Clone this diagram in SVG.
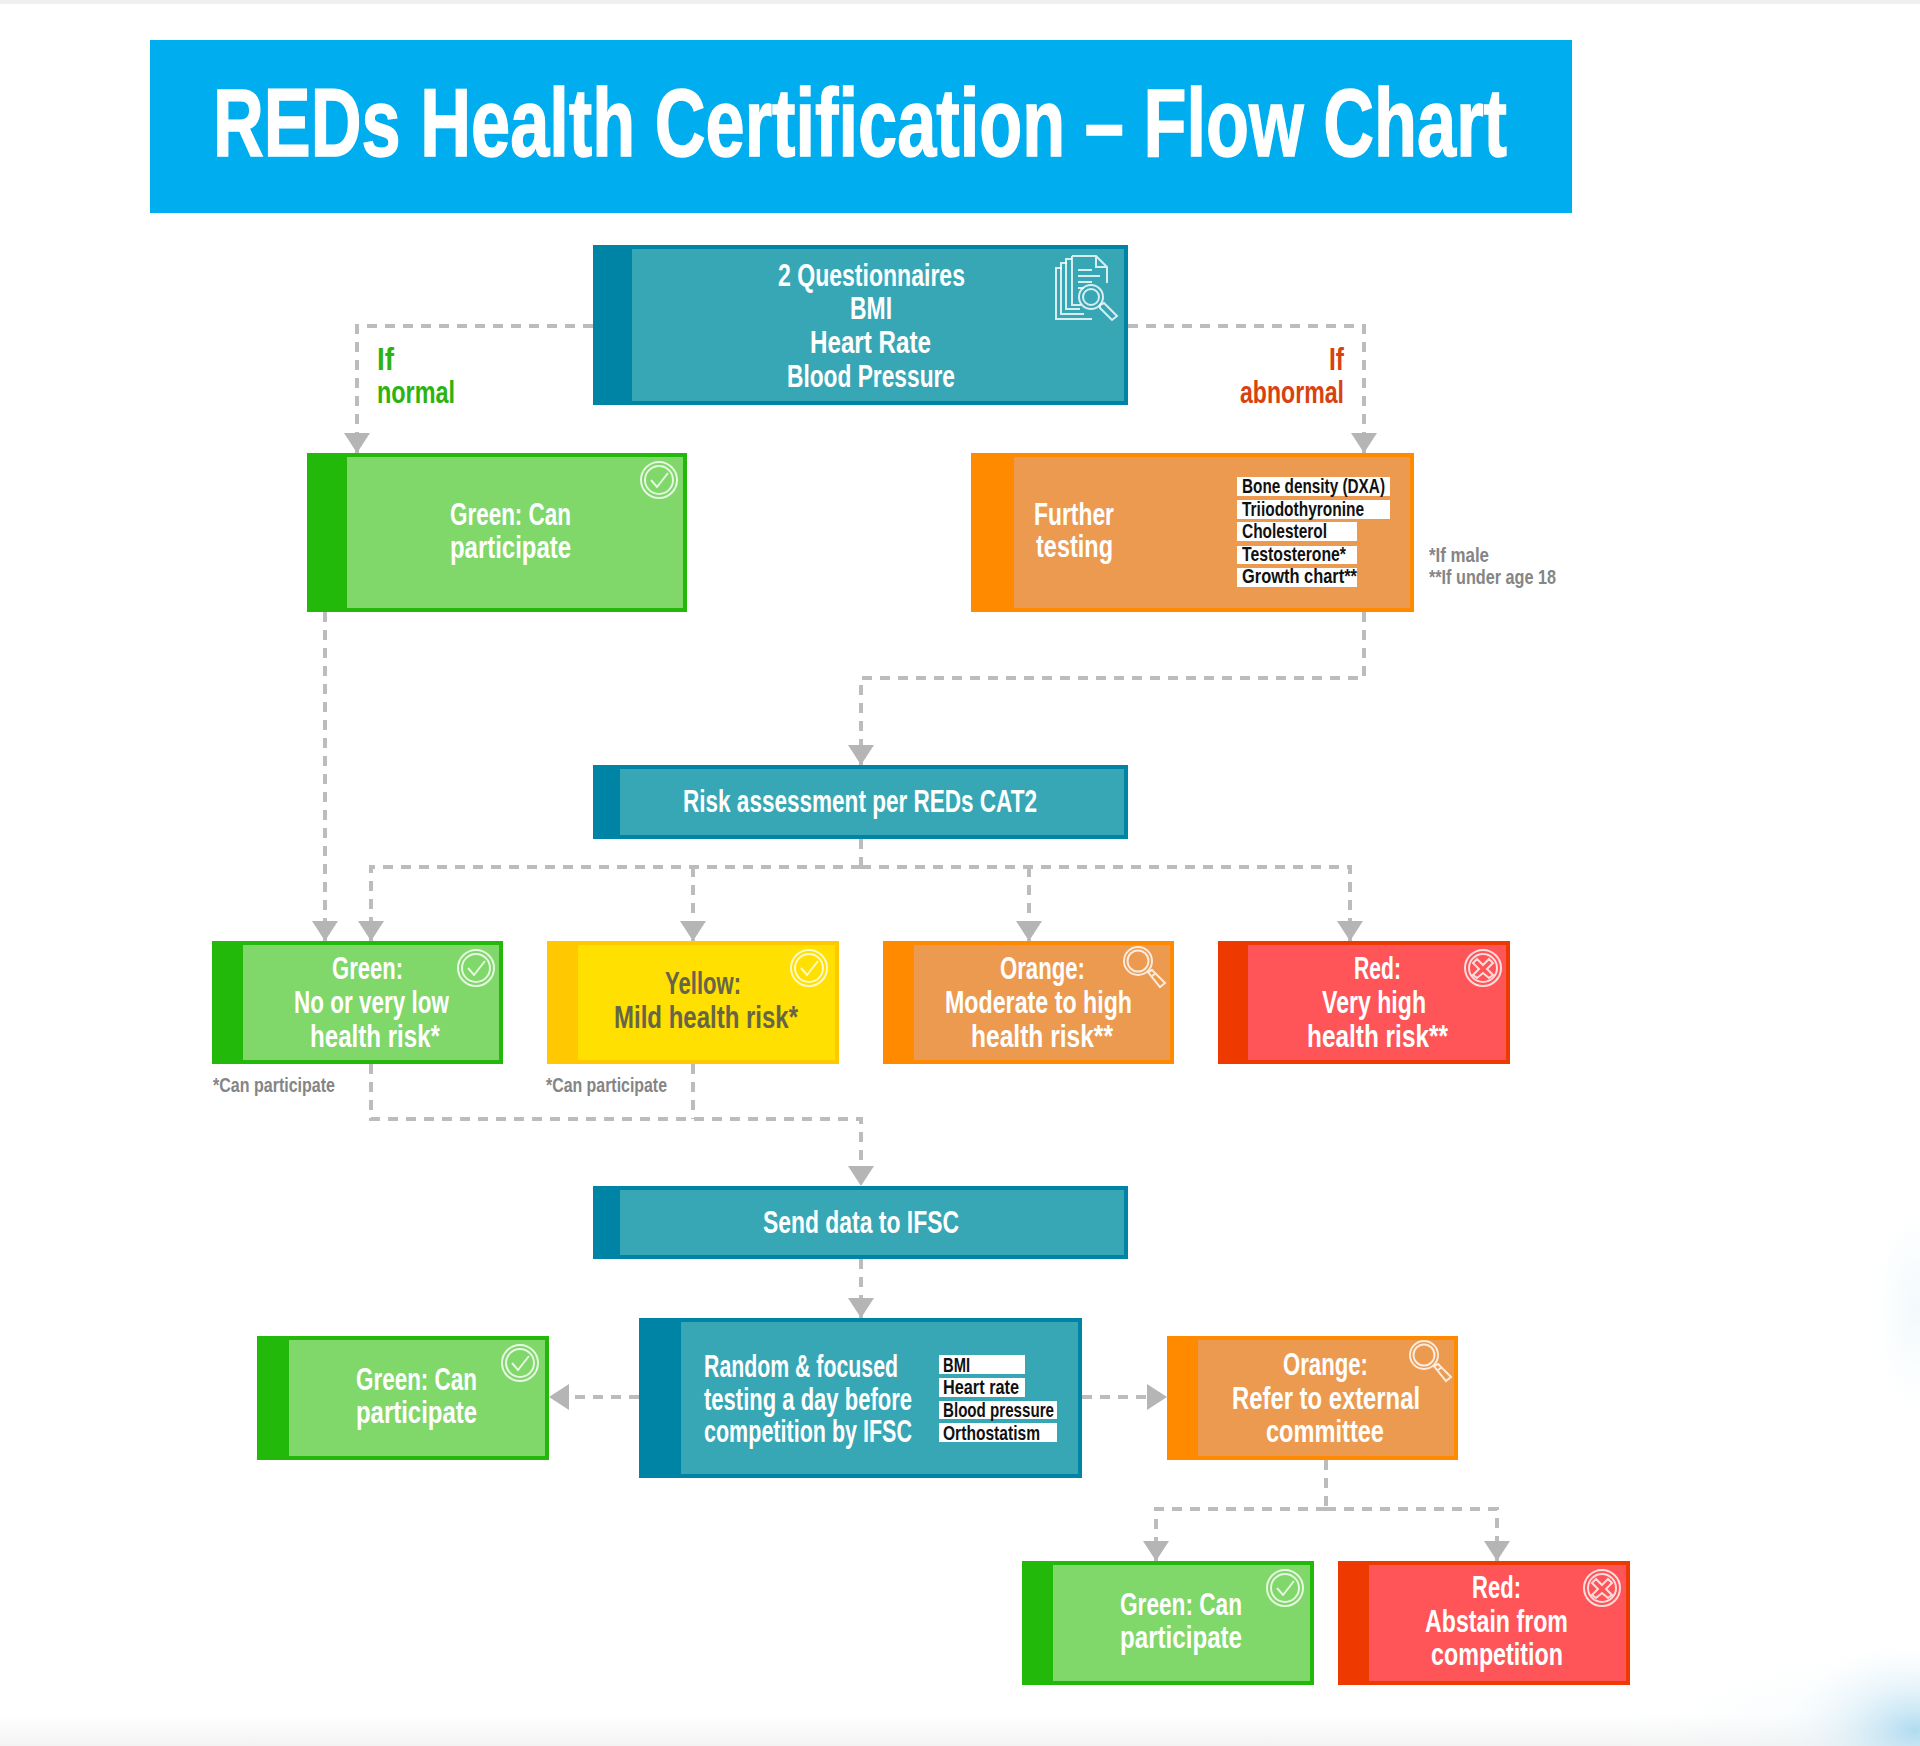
<svg xmlns="http://www.w3.org/2000/svg" width="1920" height="1746" viewBox="0 0 1920 1746">
<style>
text{font-family:"Liberation Sans Narrow","Liberation Sans",Arial,sans-serif;font-weight:700}
.w{font-size:26px;fill:#fff}
.k{font-size:17px;fill:#111}
.n{font-size:17px;fill:#858585}
.y{font-size:26px;fill:#66654a}
.g{font-size:26px;fill:#2cb30f}
.r{font-size:26px;fill:#d8420f}
.c{fill:none;stroke:#bcbcbc;stroke-width:4;stroke-dasharray:10 8}
.ic{fill:none;stroke:#fff;stroke-opacity:.8;stroke-width:2}
.pill{fill:#fff}
.tealo{fill:#0084a5}.teali{fill:#38a7b5}
.greeno{fill:#22b90a}.greeni{fill:#80d76a}
.orano{fill:#ff8a00}.orani{fill:#ec9a50}
.yelo{fill:#ffc800}.yeli{fill:#ffe000}
.redo{fill:#ee3a00}.redi{fill:#ff5558}
</style>
<defs>
<marker id="a" markerUnits="userSpaceOnUse" markerWidth="20" markerHeight="26" refX="20" refY="13" orient="auto"><path d="M0 0L20 13L0 26Z" fill="#b5b5b5"/></marker>
<linearGradient id="bot" x1="0" y1="0" x2="0" y2="1"><stop offset="0" stop-color="#fff"/><stop offset="1" stop-color="#f3f3f3"/></linearGradient>
<radialGradient id="blue"><stop offset="0" stop-color="#a9d8ef" stop-opacity=".9"/><stop offset=".5" stop-color="#cde8f5" stop-opacity=".45"/><stop offset="1" stop-color="#eaf6fb" stop-opacity="0"/></radialGradient>
<radialGradient id="blue2"><stop offset="0" stop-color="#e6f3f9" stop-opacity=".5"/><stop offset="1" stop-color="#f2f9fc" stop-opacity="0"/></radialGradient>
<g id="chk"><circle r="18" class="ic"/><circle r="14" class="ic" stroke-width="1.5"/><path d="M-8 0L-2 7L9 -7" class="ic"/></g>
<g id="xx"><circle r="18" class="ic"/><circle r="14" class="ic" stroke-width="1.5"/><path d="M-6 -9L0 -3L6 -9L10 -5L4 1L10 7L6 10L0 5L-6 10L-10 7L-4 1L-10 -5Z" class="ic"/></g>
<g id="mag"><circle r="14" class="ic"/><circle r="10.5" class="ic" stroke-width="1.5"/><path d="M10 11L14 9L27 22L22 26Z M14 15L18 12" class="ic"/></g>
</defs>
<rect width="1920" height="1746" fill="#fff"/>
<rect width="1920" height="4" fill="#efefef"/>
<rect y="1715" width="1920" height="31" fill="url(#bot)"/>
<ellipse cx="1900" cy="1760" rx="290" ry="120" fill="url(#blue2)"/>
<ellipse cx="1915" cy="1730" rx="130" ry="85" fill="url(#blue)"/>
<ellipse cx="1915" cy="1310" rx="45" ry="110" fill="url(#blue2)"/>

<g id="title">
<rect x="150" y="40" width="1422" height="173" fill="#00adef"/>
<text transform="translate(213 156) scale(1 1.2)" font-size="80" fill="#fff" stroke="#fff" stroke-width="1.2" textLength="1294" lengthAdjust="spacingAndGlyphs">REDs Health Certification – Flow Chart</text>
</g>

<g id="connectors">
<path class="c" d="M593 326H357V453" marker-end="url(#a)"/>
<path class="c" d="M1128 326H1364V453" marker-end="url(#a)"/>
<path class="c" d="M325 612V941" marker-end="url(#a)"/>
<path class="c" d="M1364 612V678H861V765" marker-end="url(#a)"/>
<path class="c" d="M861 839V867"/>
<path class="c" d="M861 867H371V941" marker-end="url(#a)"/>
<path class="c" d="M693 867V941" marker-end="url(#a)"/>
<path class="c" d="M1029 867V941" marker-end="url(#a)"/>
<path class="c" d="M861 867H1350V941" marker-end="url(#a)"/>
<path class="c" d="M371 1064V1119H861V1186" marker-end="url(#a)"/>
<path class="c" d="M693 1064V1119"/>
<path class="c" d="M861 1259V1318" marker-end="url(#a)"/>
<path class="c" d="M639 1397H549" marker-end="url(#a)"/>
<path class="c" d="M1082 1397H1167" marker-end="url(#a)"/>
<path class="c" d="M1326 1460V1509"/>
<path class="c" d="M1326 1509H1156V1561" marker-end="url(#a)"/>
<path class="c" d="M1326 1509H1497V1561" marker-end="url(#a)"/>
</g>

<g id="label-normal">
<text class="g" transform="translate(377 370) scale(1 1.19)" textLength="17" lengthAdjust="spacingAndGlyphs">If</text>
<text class="g" transform="translate(377 403) scale(1 1.19)" textLength="78" lengthAdjust="spacingAndGlyphs">normal</text>
</g>
<g id="label-abnormal">
<text class="r" transform="translate(1329 370) scale(1 1.19)" textLength="15" lengthAdjust="spacingAndGlyphs">If</text>
<text class="r" transform="translate(1240 403) scale(1 1.19)" textLength="104" lengthAdjust="spacingAndGlyphs">abnormal</text>
</g>

<g id="node-screening">
<rect class="tealo" x="593" y="245" width="535" height="160"/><rect class="teali" x="632" y="249" width="492" height="152"/>
<text class="w" transform="translate(778 286) scale(1 1.19)" textLength="187" lengthAdjust="spacingAndGlyphs">2 Questionnaires</text>
<text class="w" transform="translate(850 319) scale(1 1.19)" textLength="42" lengthAdjust="spacingAndGlyphs">BMI</text>
<text class="w" transform="translate(810 353) scale(1 1.19)" textLength="121" lengthAdjust="spacingAndGlyphs">Heart Rate</text>
<text class="w" transform="translate(787 387) scale(1 1.19)" textLength="168" lengthAdjust="spacingAndGlyphs">Blood Pressure</text>
<g class="ic"><path d="M1062 268H1056V319H1092"/><path d="M1067 263H1061V314H1084"/><path d="M1072 259H1066V309H1080"/><path d="M1072 256H1096L1107 267V283M1072 256V305H1081M1096 256V267H1107M1078 270H1092M1078 276H1100M1078 282H1092M1078 288H1084"/><circle cx="1091" cy="297" r="12"/><circle cx="1091" cy="297" r="8"/><path d="M1100 305L1104 303L1117 316L1112 320L1100 308Z"/></g>
</g>

<g id="node-green-1">
<rect class="greeno" x="307" y="453" width="380" height="159"/><rect class="greeni" x="347" y="457" width="336" height="151"/>
<text class="w" transform="translate(450 525) scale(1 1.19)" textLength="121" lengthAdjust="spacingAndGlyphs">Green: Can</text>
<text class="w" transform="translate(450 558) scale(1 1.19)" textLength="121" lengthAdjust="spacingAndGlyphs">participate</text>
<use href="#chk" x="659" y="480"/>
</g>

<g id="node-further">
<rect class="orano" x="971" y="453" width="443" height="159"/><rect class="orani" x="1014" y="457" width="396" height="151"/>
<text class="w" transform="translate(1034 525) scale(1 1.19)" textLength="80" lengthAdjust="spacingAndGlyphs">Further</text>
<text class="w" transform="translate(1036 557) scale(1 1.19)" textLength="77" lengthAdjust="spacingAndGlyphs">testing</text>
<rect class="pill" x="1237" y="477" width="153" height="19"/><rect class="pill" x="1237" y="500" width="153" height="19"/><rect class="pill" x="1237" y="522" width="120" height="19"/><rect class="pill" x="1237" y="546" width="120" height="18"/><rect class="pill" x="1237" y="568" width="120" height="19"/>
<text class="k" transform="translate(1242 493) scale(1 1.18)" textLength="143" lengthAdjust="spacingAndGlyphs">Bone density (DXA)</text>
<text class="k" transform="translate(1242 516) scale(1 1.18)" textLength="122" lengthAdjust="spacingAndGlyphs">Triiodothyronine</text>
<text class="k" transform="translate(1242 538) scale(1 1.18)" textLength="85" lengthAdjust="spacingAndGlyphs">Cholesterol</text>
<text class="k" transform="translate(1242 561) scale(1 1.18)" textLength="104" lengthAdjust="spacingAndGlyphs">Testosterone*</text>
<text class="k" transform="translate(1242 583) scale(1 1.18)" textLength="115" lengthAdjust="spacingAndGlyphs">Growth chart**</text>
</g>
<g id="note-further">
<text class="n" transform="translate(1429 562) scale(1 1.18)" textLength="60" lengthAdjust="spacingAndGlyphs">*If male</text>
<text class="n" transform="translate(1429 584) scale(1 1.18)" textLength="127" lengthAdjust="spacingAndGlyphs">**If under age 18</text>
</g>

<g id="node-risk">
<rect class="tealo" x="593" y="765" width="535" height="74"/><rect class="teali" x="620" y="769" width="504" height="66"/>
<text class="w" transform="translate(683 812) scale(1 1.19)" textLength="354" lengthAdjust="spacingAndGlyphs">Risk assessment per REDs CAT2</text>
</g>

<g id="node-risk-green">
<rect class="greeno" x="212" y="941" width="291" height="123"/><rect class="greeni" x="243" y="945" width="256" height="115"/>
<text class="w" transform="translate(332 979) scale(1 1.19)" textLength="71" lengthAdjust="spacingAndGlyphs">Green:</text>
<text class="w" transform="translate(294 1013) scale(1 1.19)" textLength="155" lengthAdjust="spacingAndGlyphs">No or very low</text>
<text class="w" transform="translate(310 1047) scale(1 1.19)" textLength="130" lengthAdjust="spacingAndGlyphs">health risk*</text>
<use href="#chk" x="476" y="968"/>
</g>
<g id="node-risk-yellow">
<rect class="yelo" x="547" y="941" width="292" height="123"/><rect class="yeli" x="578" y="945" width="257" height="115"/>
<text class="y" transform="translate(665 994) scale(1 1.19)" textLength="76" lengthAdjust="spacingAndGlyphs">Yellow:</text>
<text class="y" transform="translate(614 1028) scale(1 1.19)" textLength="184" lengthAdjust="spacingAndGlyphs">Mild health risk*</text>
<use href="#chk" x="809" y="968"/>
</g>
<g id="node-risk-orange">
<rect class="orano" x="883" y="941" width="291" height="123"/><rect class="orani" x="914" y="945" width="256" height="115"/>
<text class="w" transform="translate(1000 979) scale(1 1.19)" textLength="85" lengthAdjust="spacingAndGlyphs">Orange:</text>
<text class="w" transform="translate(945 1013) scale(1 1.19)" textLength="187" lengthAdjust="spacingAndGlyphs">Moderate to high</text>
<text class="w" transform="translate(971 1047) scale(1 1.19)" textLength="142" lengthAdjust="spacingAndGlyphs">health risk**</text>
<use href="#mag" x="1138" y="961"/>
</g>
<g id="node-risk-red">
<rect class="redo" x="1218" y="941" width="292" height="123"/><rect class="redi" x="1248" y="945" width="258" height="115"/>
<text class="w" transform="translate(1354 979) scale(1 1.19)" textLength="47" lengthAdjust="spacingAndGlyphs">Red:</text>
<text class="w" transform="translate(1322 1013) scale(1 1.19)" textLength="104" lengthAdjust="spacingAndGlyphs">Very high</text>
<text class="w" transform="translate(1307 1047) scale(1 1.19)" textLength="141" lengthAdjust="spacingAndGlyphs">health risk**</text>
<use href="#xx" x="1483" y="968"/>
</g>
<g id="notes-participate">
<text class="n" transform="translate(213 1092) scale(1 1.18)" textLength="122" lengthAdjust="spacingAndGlyphs">*Can participate</text>
<text class="n" transform="translate(546 1092) scale(1 1.18)" textLength="121" lengthAdjust="spacingAndGlyphs">*Can participate</text>
</g>

<g id="node-send">
<rect class="tealo" x="593" y="1186" width="535" height="73"/><rect class="teali" x="620" y="1190" width="504" height="65"/>
<text class="w" transform="translate(763 1233) scale(1 1.19)" textLength="196" lengthAdjust="spacingAndGlyphs">Send data to IFSC</text>
</g>

<g id="node-random">
<rect class="tealo" x="639" y="1318" width="443" height="160"/><rect class="teali" x="681" y="1322" width="397" height="152"/>
<text class="w" transform="translate(704 1377) scale(1 1.19)" textLength="194" lengthAdjust="spacingAndGlyphs">Random &amp; focused</text>
<text class="w" transform="translate(704 1410) scale(1 1.19)" textLength="208" lengthAdjust="spacingAndGlyphs">testing a day before</text>
<text class="w" font-size="23" style="font-size:23px" transform="translate(704 1442) scale(1 1.34)" textLength="208" lengthAdjust="spacingAndGlyphs">competition by IFSC</text>
<rect class="pill" x="939" y="1355" width="86" height="19"/><rect class="pill" x="939" y="1378" width="86" height="19"/><rect class="pill" x="939" y="1401" width="118" height="18"/><rect class="pill" x="939" y="1423" width="118" height="19"/>
<text class="k" transform="translate(943 1372) scale(1 1.18)" textLength="27" lengthAdjust="spacingAndGlyphs">BMI</text>
<text class="k" transform="translate(943 1394) scale(1 1.18)" textLength="76" lengthAdjust="spacingAndGlyphs">Heart rate</text>
<text class="k" transform="translate(943 1417) scale(1 1.18)" textLength="111" lengthAdjust="spacingAndGlyphs">Blood pressure</text>
<text class="k" transform="translate(943 1440) scale(1 1.18)" textLength="97" lengthAdjust="spacingAndGlyphs">Orthostatism</text>
</g>

<g id="node-green-2">
<rect class="greeno" x="257" y="1336" width="292" height="124"/><rect class="greeni" x="289" y="1340" width="256" height="116"/>
<text class="w" transform="translate(356 1390) scale(1 1.19)" textLength="121" lengthAdjust="spacingAndGlyphs">Green: Can</text>
<text class="w" transform="translate(356 1423) scale(1 1.19)" textLength="121" lengthAdjust="spacingAndGlyphs">participate</text>
<use href="#chk" x="520" y="1363"/>
</g>

<g id="node-refer">
<rect class="orano" x="1167" y="1336" width="291" height="124"/><rect class="orani" x="1198" y="1340" width="256" height="116"/>
<text class="w" transform="translate(1283 1375) scale(1 1.19)" textLength="85" lengthAdjust="spacingAndGlyphs">Orange:</text>
<text class="w" transform="translate(1232 1409) scale(1 1.19)" textLength="188" lengthAdjust="spacingAndGlyphs">Refer to external</text>
<text class="w" transform="translate(1266 1442) scale(1 1.19)" textLength="118" lengthAdjust="spacingAndGlyphs">committee</text>
<use href="#mag" x="1424" y="1355"/>
</g>

<g id="node-green-3">
<rect class="greeno" x="1022" y="1561" width="292" height="124"/><rect class="greeni" x="1053" y="1565" width="257" height="116"/>
<text class="w" transform="translate(1120 1615) scale(1 1.19)" textLength="122" lengthAdjust="spacingAndGlyphs">Green: Can</text>
<text class="w" transform="translate(1120 1648) scale(1 1.19)" textLength="122" lengthAdjust="spacingAndGlyphs">participate</text>
<use href="#chk" x="1285" y="1588"/>
</g>

<g id="node-abstain">
<rect class="redo" x="1338" y="1561" width="292" height="124"/><rect class="redi" x="1369" y="1565" width="257" height="116"/>
<text class="w" transform="translate(1472 1598) scale(1 1.19)" textLength="49" lengthAdjust="spacingAndGlyphs">Red:</text>
<text class="w" transform="translate(1425 1632) scale(1 1.19)" textLength="143" lengthAdjust="spacingAndGlyphs">Abstain from</text>
<text class="w" transform="translate(1431 1665) scale(1 1.19)" textLength="132" lengthAdjust="spacingAndGlyphs">competition</text>
<use href="#xx" x="1602" y="1588"/>
</g>
</svg>
